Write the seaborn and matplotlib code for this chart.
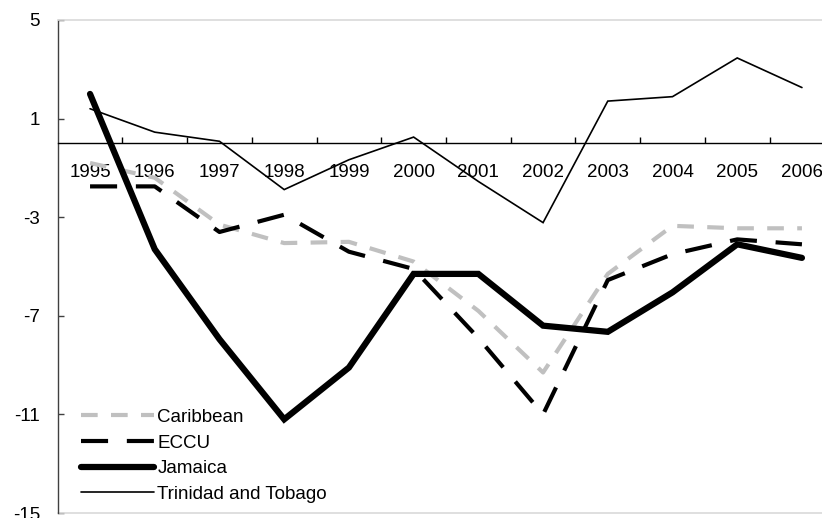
import matplotlib
matplotlib.use("Agg")
import matplotlib.pyplot as plt
import seaborn as sns
import pandas as pd
import numpy as np

years = ["1995", "1996", "1997", "1998", "1999", "2000", "2001", "2002", "2003", "2004", "2005", "2006"]
caribbean = [-0.8, -1.4, -3.3, -4.05, -4.0, -4.8, -6.8, -9.3, -5.3, -3.35, -3.45, -3.45]
eccu = [-1.75, -1.75, -3.6, -2.9, -4.4, -5.1, -7.9, -11.0, -5.55, -4.5, -3.9, -4.1]
jamaica = [2.0, -4.3, -7.95, -11.2, -9.1, -5.3, -5.3, -7.4, -7.65, -6.05, -4.1, -4.65]
trinidad = [1.4, 0.45, 0.08, -1.88, -0.67, 0.25, -1.55, -3.22, 1.71, 1.89, 3.46, 2.26]
yticks = [5, 1, -3, -7, -11, -15]

sns.set_theme(style="white")
plt.rcParams['font.family'] = ['Liberation Sans', 'DejaVu Sans']

fig = plt.figure(figsize=(8.22, 5.18), dpi=100)
ax = fig.add_axes([58/822, 5/518, 1 - 58/822, 493/518])

pos = np.arange(len(years))
series = [
    ("Caribbean", caribbean, dict(color="#c0c0c0", lw=3.0, dashes=(4, 3.2))),
    ("ECCU", eccu, dict(color="black", lw=3.0, dashes=(6.5, 4.5))),
    ("Jamaica", jamaica, dict(color="black", lw=4.5, dashes=None)),
    ("Trinidad and Tobago", trinidad, dict(color="black", lw=1.2, dashes=None)),
]
for name, vals, st in series:
    df = pd.DataFrame({"x": pos, "y": vals})
    sns.lineplot(data=df, x="x", y="y", ax=ax, color=st["color"], lw=st["lw"], label=name)
    l = ax.get_lines()[-1]
    if st["dashes"]:
        l.set_dashes(st["dashes"])
        l.set_dash_capstyle("butt")
    else:
        l.set_solid_capstyle("round")
        l.set_solid_joinstyle("miter")

ax.set_xlim(-0.495, 11.31)
ax.set_ylim(-15, 5)
ax.set_xlabel("")
ax.set_ylabel("")

# x axis on zero line
ax.spines['bottom'].set_position(('data', 0))
ax.spines['bottom'].set_color('black')
ax.spines['bottom'].set_linewidth(1.0)
ax.spines['top'].set_color('#d9d9d9')
ax.spines['top'].set_linewidth(1.2)
ax.spines['right'].set_visible(False)
ax.spines['left'].set_color('#404040')
ax.spines['left'].set_linewidth(1.0)
ax.axhline(-15, color='#d9d9d9', lw=1.2, clip_on=False)

fs = 13.5
ax.set_xticks(pos[:-1] + 0.5)
ax.set_xticklabels([])
ax.set_xticks(pos, minor=True)
ax.set_xticklabels(years, minor=True)
ax.tick_params(axis='x', which='major', direction='in', length=4, width=1, color='black', bottom=True)
ax.tick_params(axis='x', which='minor', length=0, pad=15, labelsize=fs, labelcolor='black')

ax.set_yticks(yticks)
ax.set_yticklabels([str(v) for v in yticks])
ax.tick_params(axis='y', direction='in', length=4, width=1, color='#404040', left=True, pad=13, labelsize=fs, labelcolor='black')

leg = ax.legend(loc='lower left', bbox_to_anchor=(0.017, 0.0), frameon=False, fontsize=fs,
                handlelength=3.9, handletextpad=0.15, labelspacing=0.45, borderaxespad=0.15)
for t in leg.get_texts():
    t.set_color('black')

fig.savefig("out.png", dpi=100)
